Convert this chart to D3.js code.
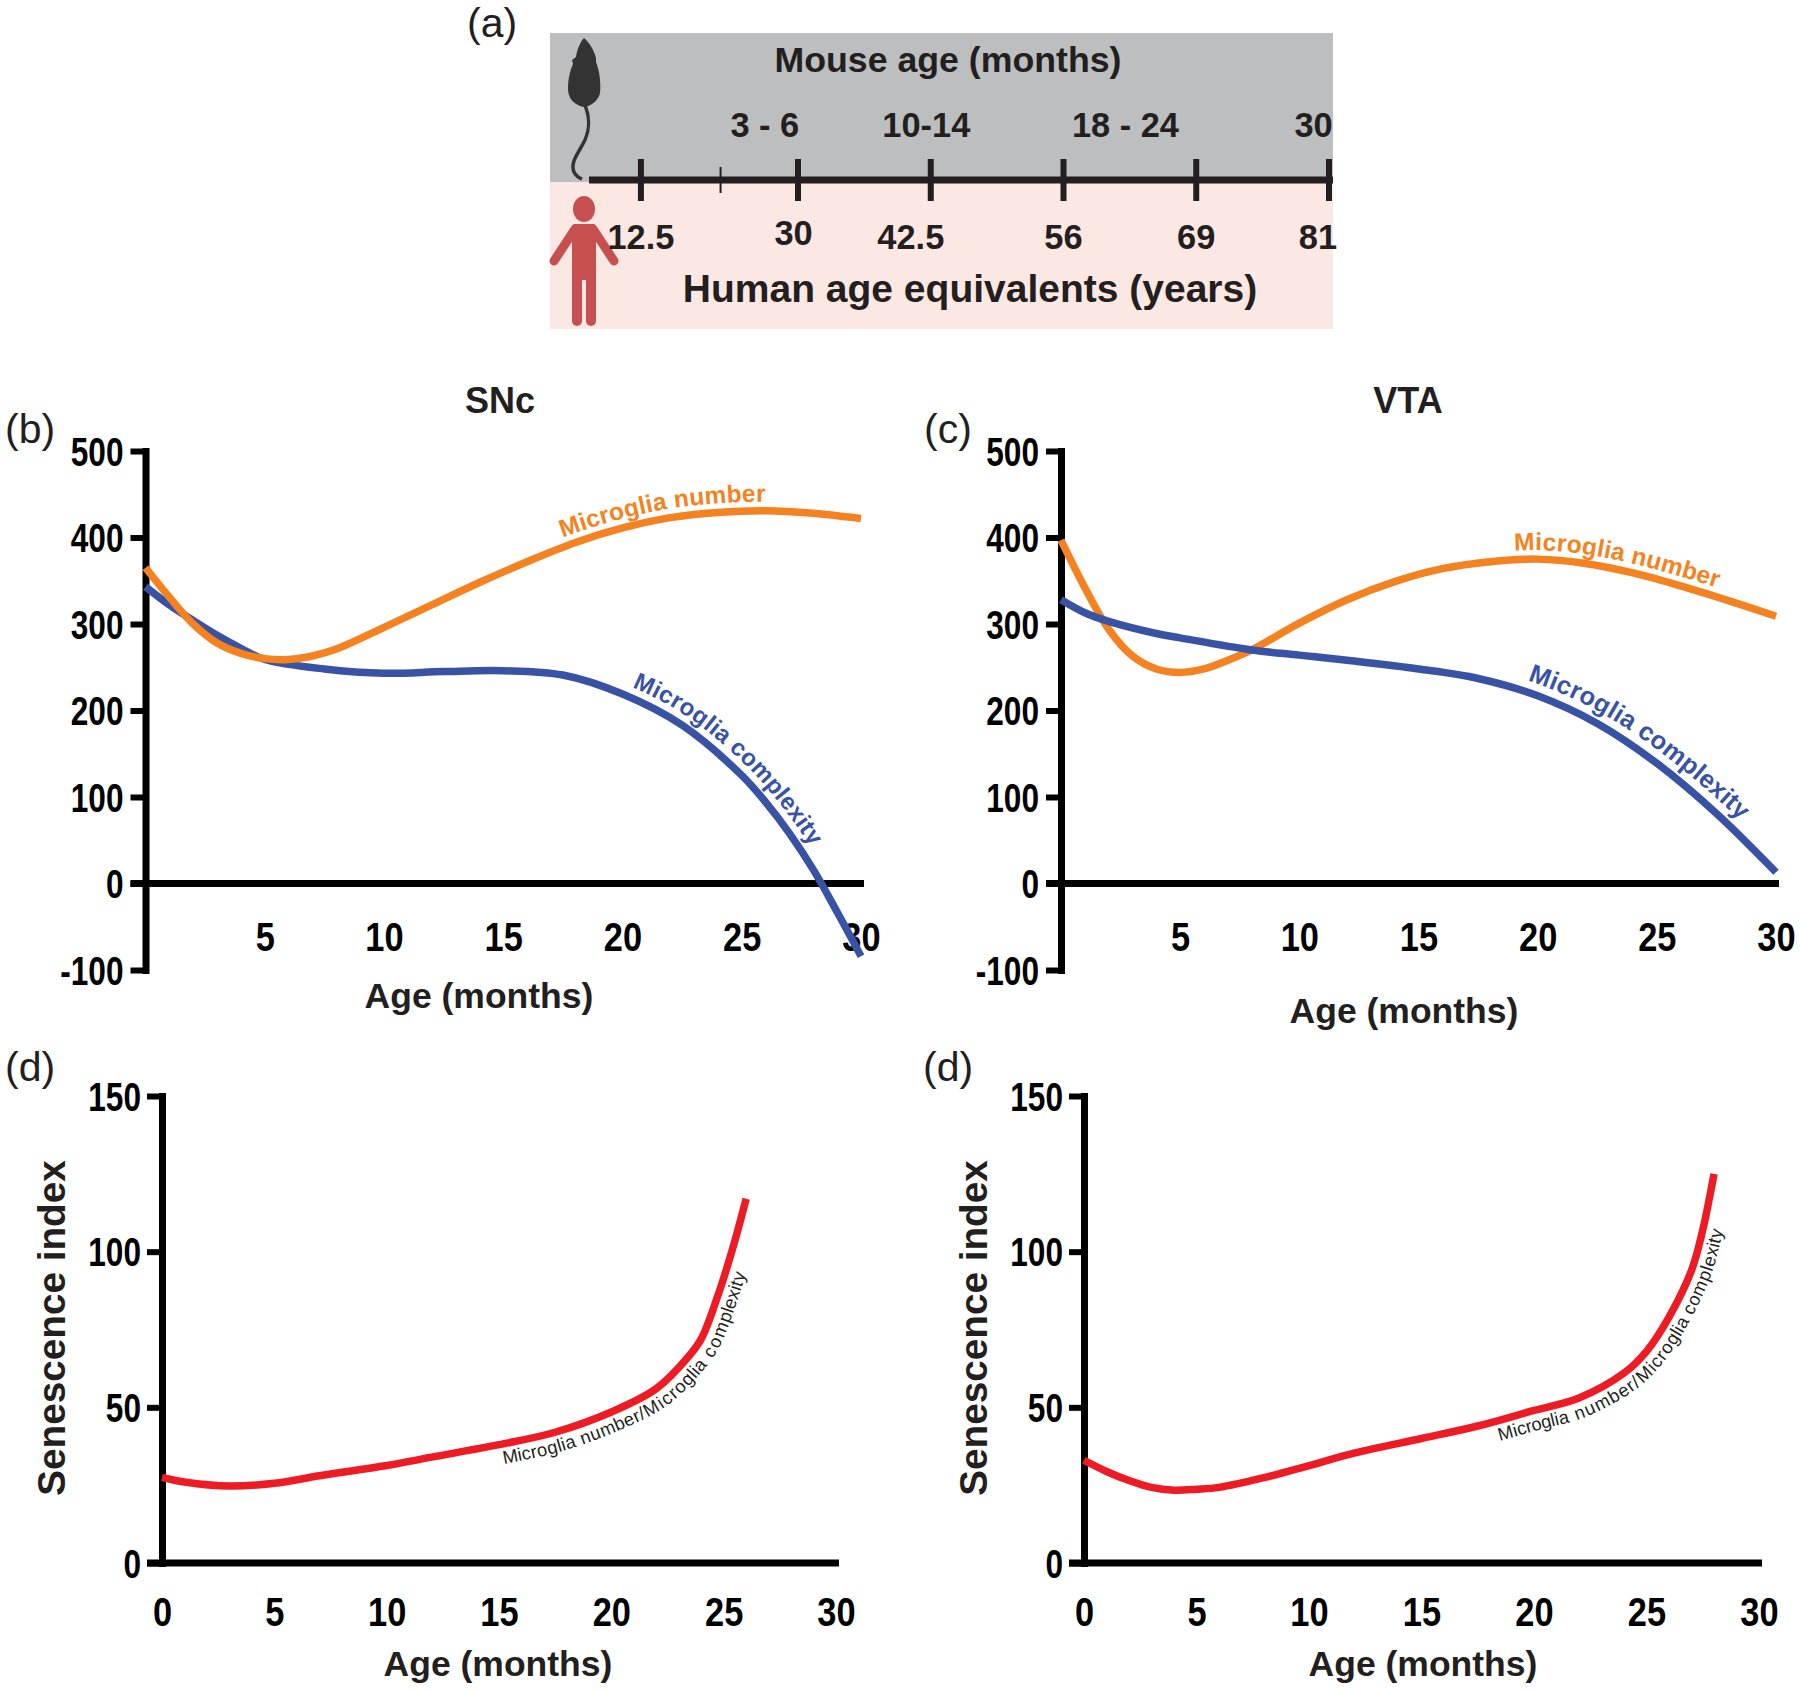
<!DOCTYPE html>
<html>
<head>
<meta charset="utf-8">
<script src="https://cdnjs.cloudflare.com/ajax/libs/d3/7.8.5/d3.min.js"></script>
<style>
  html, body { margin: 0; background: #fff; }
  text { font-family: "Liberation Sans", Arial, sans-serif; fill: #231f20; }
  .tick-num { font-weight: bold; font-size: 40px; fill: #000; }
  .title { font-weight: bold; font-size: 36px; }
  .axis-title { font-weight: bold; font-size: 35.5px; }
  .index-title { font-weight: bold; font-size: 38.7px; }
  .panel-tag { font-size: 41px; }
  .band-label { font-weight: bold; font-size: 34.4px; }
  .band-title { font-weight: bold; font-size: 35.7px; }
  .human-title { font-weight: bold; font-size: 39px; }
</style>
</head>
<body>
<div id="figure"></div>
<script>
// months along the x axis, one list per curve because the spacing differs
var snMonths = [0, 1, 2, 3, 4, 5, 6, 7, 8, 10, 12, 14, 16, 18, 20, 22, 24, 26, 28, 30];
var snNumber = [365, 331, 300, 278, 266, 260, 259, 263, 271, 296, 322, 348, 372, 394, 411, 423, 429, 431, 428, 422];
var scMonths = [0, 1, 2, 3, 4, 5, 7.5, 10, 12.5, 15, 17.5, 20, 22.5, 25, 26, 27, 28, 29, 30];
var snComplexity = [343, 322, 304, 287, 272, 259, 248, 243, 245, 246, 241, 219, 183, 125, 94, 58, 16, -33, -84];

var vnMonths = [0, 1, 2, 3, 4, 5, 6, 7, 8, 10, 12, 14, 16, 18, 20, 22, 24, 26, 28, 30];
var vtaNumber = [397, 342, 294, 263, 248, 244, 248, 258, 270, 301, 328, 349, 364, 372, 375, 370, 359, 344, 327, 309];
var vcMonths = [0, 1, 2, 4, 5, 8, 10, 12, 15, 17.5, 20, 22.5, 25, 27.5, 30];
var vtaComplexity = [328, 313, 303, 289, 284, 270, 264, 258, 248, 237, 217, 185, 139, 81, 13];

var dLeftMonths = [0, 1, 3, 5, 7, 10, 12, 15, 17.5, 20, 22, 23.4, 24, 24.7, 25.4, 26];
var dLeftIndex = [27.5, 26, 24.7, 25.6, 28, 31.3, 34, 38, 42, 48.5, 56, 66, 72, 85, 101, 117];
var dRightMonths = [0, 1, 2, 3, 4, 5, 6, 8, 10, 12, 15, 17.5, 20, 22, 24, 25, 26, 27, 27.5, 28];
var dRightIndex = [33, 29.4, 26.5, 24.3, 23.4, 23.7, 24.3, 27.4, 31.3, 35.3, 40, 44, 49, 53, 61, 68, 79, 94, 107, 125];

var topTicksY = [-100, 0, 100, 200, 300, 400, 500];
var topTicksX = [5, 10, 15, 20, 25, 30];
var bottomTicksY = [0, 50, 100, 150];
var bottomTicksX = [0, 5, 10, 15, 20, 25, 30];

// timeline of panel (a), positions given in mouse months
var timelineMajor = [-1.1, 6, 12, 18, 24, 30];
var timelineMinor = [2.5];
var mouseLabels = ["3 - 6", "10-14", "18 - 24", "30"];
var mouseLabelAt = [4.5, 11.8, 20.8, 29.3];
var humanLabels = ["12.5", "30", "42.5", "56", "69", "81"];
var humanLabelAt = [-1.1, 5.8, 11.1, 18, 24, 29.5];

var orange = "#f58220", blue = "#3953a4", red = "#ed1c24";
// tick digits are condensed in the source
var squeezeY = 0.79, squeezeX = 0.86;

var svg = d3.select("#figure").append("svg")
    .attr("width", 1800)
    .attr("height", 1691)
    .style("display", "block");

function zip(xs, ys) {
    return xs.map(function(x, i) { return [x, ys[i]]; });
}

var lineId = 0;

function drawCurve(g, x, y, points, color, label) {
    var line = d3.line()
        .x(function(d) { return x(d[0]); })
        .y(function(d) { return y(d[1]); })
        .curve(d3.curveCatmullRom.alpha(0.5));

    lineId++;
    var path = g.append("path")
        .attr("id", "curve" + lineId)
        .attr("d", line(points))
        .attr("fill", "none")
        .attr("stroke", color)
        .attr("stroke-width", 7.5);

    // label rides on the curve, starting at the given month
    var node = path.node(), total = node.getTotalLength(), len = 0;
    while (len < total && node.getPointAtLength(len).x < x(label.from)) len += 1;

    g.append("text")
        .attr("dy", label.dy)
        .style("font-size", label.size + "px")
        .style("font-weight", label.weight)
        .style("fill", label.color)
        .append("textPath")
        .attr("href", "#curve" + lineId)
        .attr("startOffset", len)
        .text(label.text);
}

function drawAxes(x, y, xTicks, yTicks, padX, padY) {
    var yAxis = svg.append("g")
        .attr("transform", "translate(" + x.range()[0] + ",0)")
        .call(d3.axisLeft(y).tickValues(yTicks).tickFormat(String).tickSize(15).tickSizeOuter(0).tickPadding(padY));
    yAxis.select(".domain").attr("stroke", "#000").attr("stroke-width", 7).attr("stroke-linecap", "square");
    yAxis.selectAll(".tick line").attr("stroke", "#000").attr("stroke-width", 6);
    yAxis.selectAll("text")
        .attr("class", "tick-num").attr("font-family", null).attr("font-size", null)
        .attr("x", -(15 + padY) / squeezeY)
        .attr("y", 1.5)
        .attr("transform", "scale(" + squeezeY + ",1)");

    var xAxis = svg.append("g")
        .attr("transform", "translate(0," + y(0) + ")")
        .call(d3.axisBottom(x).tickValues(xTicks).tickFormat(String).tickSize(0).tickPadding(padX));
    xAxis.select(".domain").remove();
    xAxis.selectAll("text")
        .attr("class", "tick-num").attr("font-family", null).attr("font-size", null)
        .attr("transform", "scale(" + squeezeX + ",1)");
    xAxis.append("line")
        .attr("x1", x.range()[0] - 15)
        .attr("x2", x.range()[1] + 3)
        .attr("stroke", "#000")
        .attr("stroke-width", 7);
}

function addText(cls, txt, px, py, rotate) {
    var t = svg.append("text")
        .attr("class", cls)
        .attr("text-anchor", cls === "panel-tag" ? "start" : "middle")
        .text(txt);
    if (rotate) t.attr("transform", "translate(" + px + "," + py + ")rotate(-90)");
    else t.attr("x", px).attr("y", py);
}

// ---- panel (a)
var mx = d3.scaleLinear().domain([6, 30]).range([798, 1329]);

svg.append("rect").attr("x", 550).attr("y", 33).attr("width", 783).attr("height", 149).attr("fill", "#bcbec0");
svg.append("rect").attr("x", 550).attr("y", 182).attr("width", 783).attr("height", 147).attr("fill", "#fce8e3");

// mouse
svg.append("path")
    .attr("d", "M584,38C580,42 577,50 576,57L572,60L573,64C568,75 567,90 569,95C571,102 578,106 584,107C590,106 598,102 600,93C601,85 600,72 596,62L596,58C594,50 589,42 584,38Z")
    .attr("fill", "#333333");
svg.append("path")
    .attr("d", "M585,105C590,118 590,128 585,140C578,154 570,162 574,172C576,176 579,178 582,179")
    .attr("fill", "none").attr("stroke", "#333333").attr("stroke-width", 3.5);

// human
var humanColor = "#c6504f";
svg.append("ellipse").attr("cx", 584).attr("cy", 209).attr("rx", 11).attr("ry", 13).attr("fill", humanColor);
svg.append("rect").attr("x", 572).attr("y", 224).attr("width", 24).attr("height", 56).attr("rx", 3).attr("fill", humanColor);
[[575, 229, 554, 261], [593, 229, 614, 261], [577, 275, 577, 321], [591, 275, 591, 321]].forEach(function(s, i) {
    svg.append("line")
        .attr("x1", s[0]).attr("y1", s[1]).attr("x2", s[2]).attr("y2", s[3])
        .attr("stroke", humanColor).attr("stroke-width", i < 2 ? 9 : 10).attr("stroke-linecap", "round");
});

svg.append("line").attr("x1", 589).attr("x2", 1333).attr("y1", 180).attr("y2", 180).attr("stroke", "#231f20").attr("stroke-width", 7);
svg.selectAll(".major").data(timelineMajor).enter().append("line")
    .attr("x1", mx).attr("x2", mx).attr("y1", 159).attr("y2", 201)
    .attr("stroke", "#231f20").attr("stroke-width", 6);
svg.selectAll(".minor").data(timelineMinor).enter().append("line")
    .attr("x1", mx).attr("x2", mx).attr("y1", 167).attr("y2", 193)
    .attr("stroke", "#231f20").attr("stroke-width", 2);

mouseLabels.forEach(function(s, i) { addText("band-label", s, mx(mouseLabelAt[i]), 137); });
humanLabels.forEach(function(s, i) { addText("band-label", s, mx(humanLabelAt[i]), s === "30" ? 245 : 249); });

addText("band-title", "Mouse age (months)", 948, 72);
addText("human-title", "Human age equivalents (years)", 970, 302);
addText("panel-tag", "(a)", 467, 37);

// ---- panels (b) and (c)
var topY = d3.scaleLinear().domain([-100, 500]).range([970, 451]);

var bX = d3.scaleLinear().domain([0, 30]).range([145.5, 861]);
drawAxes(bX, topY, topTicksX, topTicksY, 39, 7);
var cX = d3.scaleLinear().domain([0, 30]).range([1061, 1776]);
drawAxes(cX, topY, topTicksX, topTicksY, 39, 7);

var bg = svg.append("g"), cg = svg.append("g");
var bold = "bold";
// orange sits on top of blue in (b), under it in (c)
drawCurve(bg, bX, topY, zip(scMonths, snComplexity), blue,
    {text: "Microglia complexity", from: 20.2, dy: -10, size: 24, weight: bold, color: blue});
drawCurve(bg, bX, topY, zip(snMonths, snNumber), orange,
    {text: "Microglia number", from: 17.6, dy: -9, size: 24.5, weight: bold, color: orange});
drawCurve(cg, cX, topY, zip(vnMonths, vtaNumber), orange,
    {text: "Microglia number", from: 19, dy: -9, size: 24.5, weight: bold, color: orange});
drawCurve(cg, cX, topY, zip(vcMonths, vtaComplexity), blue,
    {text: "Microglia complexity", from: 19.4, dy: -11, size: 25.5, weight: bold, color: blue});

addText("title", "SNc", 500, 413);
addText("title", "VTA", 1408, 413);
addText("panel-tag", "(b)", 5, 443);
addText("panel-tag", "(c)", 924, 443);
addText("axis-title", "Age (months)", 479, 1008);
addText("axis-title", "Age (months)", 1404, 1023);

// ---- bottom pair, both tagged (d) in the source
var lowY = d3.scaleLinear().domain([0, 150]).range([1563, 1096]);
var dX = d3.scaleLinear().domain([0, 30]).range([162, 836]);
var eX = d3.scaleLinear().domain([0, 30]).range([1084, 1759]);
drawAxes(dX, lowY, bottomTicksX, bottomTicksY, 35, 6);
drawAxes(eX, lowY, bottomTicksX, bottomTicksY, 35, 6);

var ratioLabel = "Microglia number/Microglia complexity";
drawCurve(svg.append("g"), dX, lowY, zip(dLeftMonths, dLeftIndex), red,
    {text: ratioLabel, from: 15, dy: 20, size: 18.3, weight: "normal", color: "#231f20"});
drawCurve(svg.append("g"), eX, lowY, zip(dRightMonths, dRightIndex), red,
    {text: ratioLabel, from: 18.2, dy: 20, size: 18.3, weight: "normal", color: "#231f20"});

addText("panel-tag", "(d)", 5, 1081);
addText("panel-tag", "(d)", 923, 1081);
addText("axis-title", "Age (months)", 498, 1676);
addText("axis-title", "Age (months)", 1423, 1676);
addText("index-title", "Senescence index", 65, 1328, true);
addText("index-title", "Senescence index", 987, 1328, true);
</script>
</body>
</html>
